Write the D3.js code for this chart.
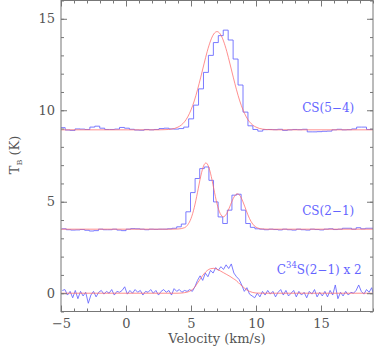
<!DOCTYPE html>
<html><head><meta charset="utf-8">
<script src="https://cdn.jsdelivr.net/npm/d3@7"></script>
<style>
body{margin:0;background:#fff;}
svg{display:block;}
text{font-family:"DejaVu Serif","Liberation Serif",serif;fill:#555;}
</style></head>
<body><svg id="c" width="374" height="346"></svg>
<script>
// ---- data ----
const xTicks = [-5, 0, 5, 10, 15];
const yTicks = [0, 5, 10, 15];
// CS(5-4): channel grid (km/s) and brightness temperatures
const cs54Start = -5.06;
const cs54Width = 0.38;
const cs54 = [9.05,8.92,8.90,8.98,8.97,8.95,9.08,9.13,9.02,8.95,8.95,8.97,9.06,9.02,8.96,8.92,
  8.91,8.95,8.93,8.95,9.00,9.02,8.98,8.97,9.00,9.08,9.53,10.28,11.17,12.07,13.00,13.70,
  14.08,14.38,13.84,12.80,11.38,9.90,9.15,8.95,8.86,8.94,8.95,8.94,8.96,8.90,8.93,8.95,
  8.94,8.96,8.82,8.82,8.83,8.85,8.86,8.93,8.96,8.93,8.94,8.98,9.08,9.08,8.95,8.95];
// CS(2-1): channel grid and values
const cs21Start = -4.95;
const cs21Width = 0.354;
const cs21 = [3.52,3.47,3.45,3.46,3.48,3.44,3.40,3.42,3.50,3.47,3.47,3.50,3.45,3.42,3.50,3.53,
  3.52,3.50,3.47,3.50,3.49,3.50,3.50,3.52,3.55,3.63,3.78,4.45,5.50,6.27,6.81,6.90,
  6.17,4.99,4.17,3.81,4.54,5.36,5.41,4.54,3.81,3.60,3.52,3.50,3.47,3.50,3.48,3.46,
  3.50,3.47,3.45,3.50,3.47,3.45,3.50,3.48,3.46,3.50,3.52,3.48,3.50,3.55,3.55,3.50,
  3.58,3.52,3.55,3.55];
// C34S(2-1) x 2, finer channels
const c34Start = -5.0;
const c34Width = 0.2;
const c34 = [0.15,0.2,-0.1,0.1,-0.25,0.15,-0.3,0.1,-0.15,0.05,-0.55,-0.1,0.1,-0.2,0.05,0.15,
  -0.05,0.1,0.0,0.2,-0.1,0.1,0.05,0.15,0.35,-0.05,0.15,0.0,0.2,0.05,0.15,-0.1,
  0.1,0.05,0.2,0.0,0.15,-0.1,0.1,0.2,0.05,0.15,-0.1,0.25,0.1,0.2,0.05,0.15,
  0.1,0.2,0.1,0.35,0.7,0.95,0.7,1.1,0.9,1.25,1.1,1.4,1.25,1.45,1.3,1.55,
  1.35,1.6,1.1,0.9,0.75,0.45,0.1,0.3,-0.05,-0.15,-0.25,0.0,-0.2,0.1,-0.1,0.15,
  -0.05,0.1,-0.2,0.05,0.2,-0.1,0.15,-0.15,0.0,0.15,-0.2,0.1,-0.1,0.05,-0.25,0.1,
  -0.05,0.2,-0.2,0.05,-0.15,0.1,-0.2,0.15,-0.1,0.45,-0.3,0.05,-0.15,0.1,-0.1,0.05,
  0.0,0.15,0.45,0.1,-0.05,0.2,0.05,0.3,-0.25];
// fitted profiles: [velocity, T]
const fit54 = [[-5,8.93],[2.5,8.93],[3.0,8.94],[3.5,8.97],[4.0,9.08],[4.25,9.19],[4.5,9.37],[4.75,9.64],
  [5.0,10.02],[5.25,10.51],[5.5,11.12],[5.75,11.81],[6.0,12.53],[6.25,13.22],[6.5,13.79],[6.75,14.17],
  [7.0,14.30],[7.25,14.17],[7.5,13.79],[7.75,13.22],[8.0,12.53],[8.25,11.81],[8.5,11.12],[8.75,10.51],
  [9.0,10.02],[9.25,9.64],[9.5,9.37],[9.75,9.19],[10.0,9.08],[10.5,8.97],[11.0,8.94],[11.5,8.93],[19,8.93]];
const fit21 = [[-5,3.5],[3.5,3.5],[4.0,3.51],[4.5,3.58],[4.75,3.74],[5.0,4.08],[5.25,4.68],[5.5,5.51],
  [5.75,6.40],[6.0,7.01],[6.15,7.12],[6.25,7.07],[6.5,6.56],[6.75,5.72],[7.0,4.89],[7.25,4.35],
  [7.5,4.18],[7.75,4.36],[8.0,4.76],[8.25,5.18],[8.5,5.42],[8.57,5.43],[8.75,5.35],[9.0,4.99],
  [9.25,4.52],[9.5,4.08],[9.75,3.78],[10.0,3.61],[10.5,3.51],[11.0,3.5],[19,3.5]];
const fitC34 = [[-5,0],[4.0,0],[4.5,0.03],[5.0,0.15],[5.25,0.30],[5.5,0.55],[5.75,0.82],[6.0,1.06],
  [6.25,1.24],[6.5,1.34],[6.75,1.36],[7.0,1.31],[7.25,1.22],[7.5,1.12],[7.75,1.02],[8.0,0.92],
  [8.25,0.80],[8.5,0.68],[8.75,0.50],[9.0,0.35],[9.25,0.20],[9.5,0.10],[9.75,0.04],[10.0,0.01],[10.5,0],[19,0]];
const labels = [
  {text:"CS(5−4)", v:13.55, t:9.9},
  {text:"CS(2−1)", v:13.55, t:4.3},
  {text:"C|34|S(2−1) x 2", v:11.6, t:1.05}
];

// ---- chart ----
const svg = d3.select("#c");
const X0 = 61, X1 = 373, Y0 = 0.5, Y1 = 311.5;
const x = d3.scaleLinear().domain([-5, 19]).range([X0, X1]);
const y = d3.scaleLinear().domain([-1, 16]).range([Y1, Y0]);

svg.append("defs").append("clipPath").attr("id","clip")
  .append("rect").attr("x",X0).attr("y",Y0).attr("width",X1-X0).attr("height",Y1-Y0);

const plot = svg.append("g").attr("clip-path","url(#clip)");

function stepPoints(start, w, vals){
  const pts = [];
  vals.forEach((v,i)=>{ pts.push([start + i*w, v]); pts.push([start + (i+1)*w, v]); });
  return pts;
}
function centerPoints(start, w, vals){
  return vals.map((v,i)=>[start + (i+0.5)*w, v]);
}
const line = d3.line().x(d=>x(d[0])).y(d=>y(d[1]));
const smooth = d3.line().x(d=>x(d[0])).y(d=>y(d[1])).curve(d3.curveMonotoneX);

const blue = "#6464ff", red = "#ff6a6a";
[stepPoints(cs54Start,cs54Width,cs54), stepPoints(cs21Start,cs21Width,cs21), centerPoints(c34Start,c34Width,c34)].forEach(pts=>{
  plot.append("path").attr("d", line(pts))
    .attr("fill","none").attr("stroke",blue).attr("stroke-width",1).attr("stroke-opacity",0.85);
});
[fit54, fit21, fitC34].forEach(f=>{
  plot.append("path").attr("d", smooth(f))
    .attr("fill","none").attr("stroke",red).attr("stroke-width",1).attr("stroke-opacity",0.75);
});

// axes
const axCol = "#777";
function styleAxis(g){
  g.select(".domain").remove();
  g.selectAll("line").attr("stroke",axCol);
  g.selectAll("text").attr("fill","#555").style("font-size","13px").style("font-family",'"DejaVu Serif",serif');
}
const minorX = d3.range(-5, 20, 1), minorY = d3.range(-1, 17, 1);
svg.append("g").attr("transform",`translate(0,${Y1})`)
  .call(d3.axisBottom(x).tickValues(minorX).tickSize(-3).tickFormat("")).call(styleAxis);
svg.append("g").attr("transform",`translate(0,${Y1})`)
  .call(d3.axisBottom(x).tickValues(xTicks).tickSize(-6).tickPadding(7).tickFormat(d=>d<0?"−"+Math.abs(d):d))
  .call(styleAxis);
svg.append("g").attr("transform",`translate(0,${Y0})`)
  .call(d3.axisTop(x).tickValues(minorX).tickSize(-3).tickFormat("")).call(styleAxis);
svg.append("g").attr("transform",`translate(0,${Y0})`)
  .call(d3.axisTop(x).tickValues(xTicks).tickSize(-6).tickFormat("")).call(styleAxis);
svg.append("g").attr("transform",`translate(${X0},0)`)
  .call(d3.axisLeft(y).tickValues(minorY).tickSize(-3).tickFormat("")).call(styleAxis);
svg.append("g").attr("transform",`translate(${X0},0)`)
  .call(d3.axisLeft(y).tickValues(yTicks).tickSize(-6).tickPadding(6)).call(styleAxis);
svg.append("g").attr("transform",`translate(${X1},0)`)
  .call(d3.axisRight(y).tickValues(minorY).tickSize(-3).tickFormat("")).call(styleAxis);
svg.append("g").attr("transform",`translate(${X1},0)`)
  .call(d3.axisRight(y).tickValues(yTicks).tickSize(-6).tickFormat("")).call(styleAxis);

svg.append("rect").attr("x",X0).attr("y",Y0).attr("width",X1-X0).attr("height",Y1-Y0)
  .attr("fill","none").attr("stroke",axCol).attr("stroke-width",1);

// axis titles
svg.append("text").attr("x",217).attr("y",343).attr("text-anchor","middle")
  .style("font-size","13px").text("Velocity (km/s)");
const yt = svg.append("text").attr("transform","translate(19,155) rotate(-90)")
  .attr("text-anchor","middle").style("font-size","13px");
yt.append("tspan").text("T");
yt.append("tspan").attr("dy",3).style("font-size","8px").text("B");
yt.append("tspan").attr("dy",-3).text(" (K)");

// spectrum labels
labels.forEach(l=>{
  const t = svg.append("text").attr("x",x(l.v)).attr("y",y(l.t))
    .attr("fill",blue).style("fill",blue).style("font-size","12px");
  const parts = l.text.split("|");
  if(parts.length===1){ t.text(l.text); }
  else {
    t.append("tspan").text(parts[0]);
    t.append("tspan").attr("dy",-6).style("font-size","8.5px").text(parts[1]);
    t.append("tspan").attr("dy",6).text(parts[2]);
  }
});
</script></body></html>
